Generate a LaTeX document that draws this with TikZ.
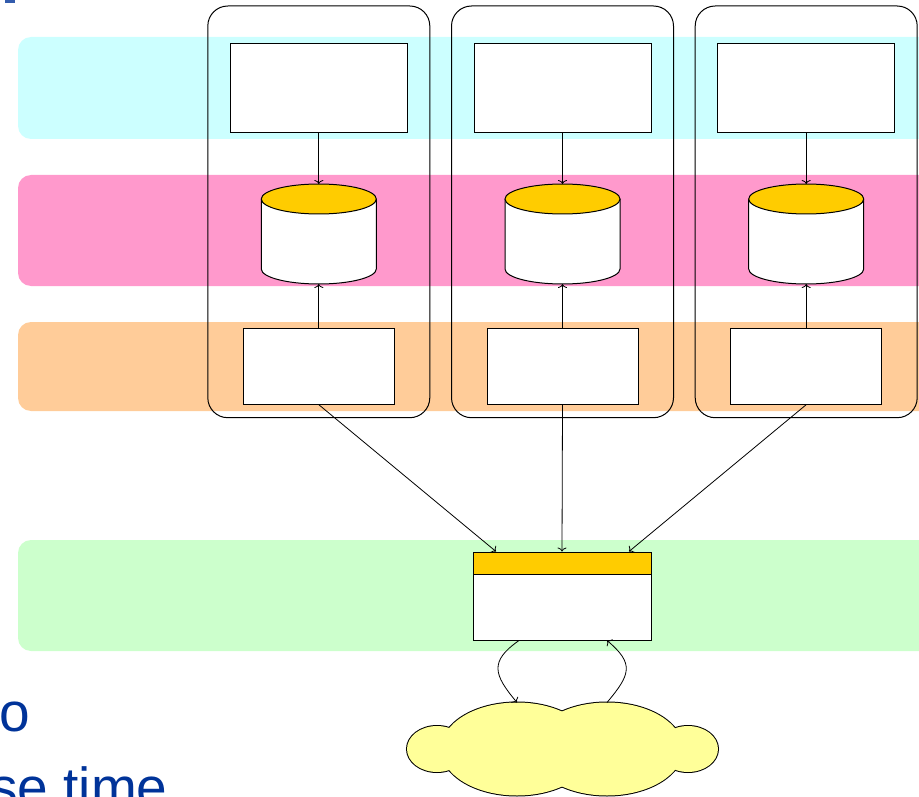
\documentclass[tikz,border=0pt]{standalone}
\usepackage{fontspec}
\newfontfamily\slidefont{Liberation Sans}
\usetikzlibrary{positioning,arrows.meta}
\definecolor{laycyan}{HTML}{CCFFFF}
\definecolor{laypink}{HTML}{FF99CC}
\definecolor{layorange}{HTML}{FFCC99}
\definecolor{laygreen}{HTML}{CCFFCC}
\definecolor{dbgold}{HTML}{FFCC00}
\definecolor{cloudyellow}{HTML}{FFFF99}
\definecolor{slideblue}{HTML}{003399}
\tikzset{
  box/.style={draw, fill=white, line width=1pt, inner sep=0pt},
  dbase/.style={minimum width=115pt, minimum height=100pt, inner sep=0pt, outer sep=0pt},
  link/.style={-{To[length=4pt,width=9pt]}, line width=0.8pt},
  layer/.style={rounded corners=13pt}
}
\begin{document}
\begin{tikzpicture}[x=1pt,y=1pt]
    \clip (0,0) rectangle (919,-797);
    \fill[layer,laycyan] (18,-37) rectangle (950,-139);
    \fill[layer,laypink] (18,-175) rectangle (950,-286);
    \fill[layer,layorange] (18,-322) rectangle (950,-411);
    \fill[layer,laygreen] (18,-540) rectangle (950,-651);
    \fill[slideblue!80] (5,0) rectangle (15,-3);
    \node[anchor=base west,text=slideblue,font=\slidefont\fontsize{55}{66}\selectfont,inner sep=0pt] (lineo) at (-1,-731) {o};
    \node[anchor=base west,text=slideblue,font=\slidefont\fontsize{55}{66}\selectfont,inner sep=0pt] (linetime) at (-10,-806) {se time};
    \foreach \i in {1,2,3} {
        \pgfmathsetmacro\cx{318.8+243.7*(\i-1)}
        \draw[line width=1pt,rounded corners=20pt] (\cx-111,-6) rectangle (\cx+111,-417.7);
        \node[box,minimum width=177pt,minimum height=89pt] (top\i) at (\cx,-88.5) {};
        \node[dbase] (db\i) at (\cx,-234) {};
        \filldraw[line width=1pt,fill=white] (\cx-57.5,-199) -- (\cx-57.5,-269) arc (180:360:57.5 and 15) -- (\cx+57.5,-199);
        \draw[line width=1pt,fill=dbgold] (\cx,-199) ellipse (57.5 and 15);
        \node[box,minimum width=151pt,minimum height=76pt] (bot\i) at (\cx,-366.2) {};
        \draw[link] (top\i) -- (db\i);
        \draw[link] (bot\i) -- (db\i);
    }
    \node[box,fill=dbgold,minimum width=178pt,minimum height=22pt] (hub) at (562,-563) {};
    \node[box,minimum width=178pt,minimum height=66pt,below=-1pt of hub] (hubbody) {};
    \draw[link] (bot1.south) -- ([xshift=-66pt]hub.north);
    \draw[link] (bot2.south) -- (hub.north);
    \draw[link] (bot3.south) -- ([xshift=67pt]hub.north);
    \foreach \ex/\rx/\ry in {437/30/23, 517/76/46.5, 607/76/46.5, 688/30/23}
        \draw[line width=2pt] (\ex,-749) ellipse ({\rx} and {\ry});
    \foreach \ex/\rx/\ry in {437/30/23, 517/76/46.5, 607/76/46.5, 688/30/23}
        \fill[cloudyellow] (\ex,-749) ellipse ({\rx} and {\ry});
    \coordinate (cloudL) at (517,-702.5);
    \coordinate (cloudR) at (607,-702.5);
    \draw[link] ([xshift=-43pt]hubbody.south) to[out=215,in=130,looseness=1.5] (cloudL);
    \draw[link] (cloudR) to[out=50,in=-40,looseness=1.5] ([xshift=45pt]hubbody.south);
\end{tikzpicture}
\end{document}
